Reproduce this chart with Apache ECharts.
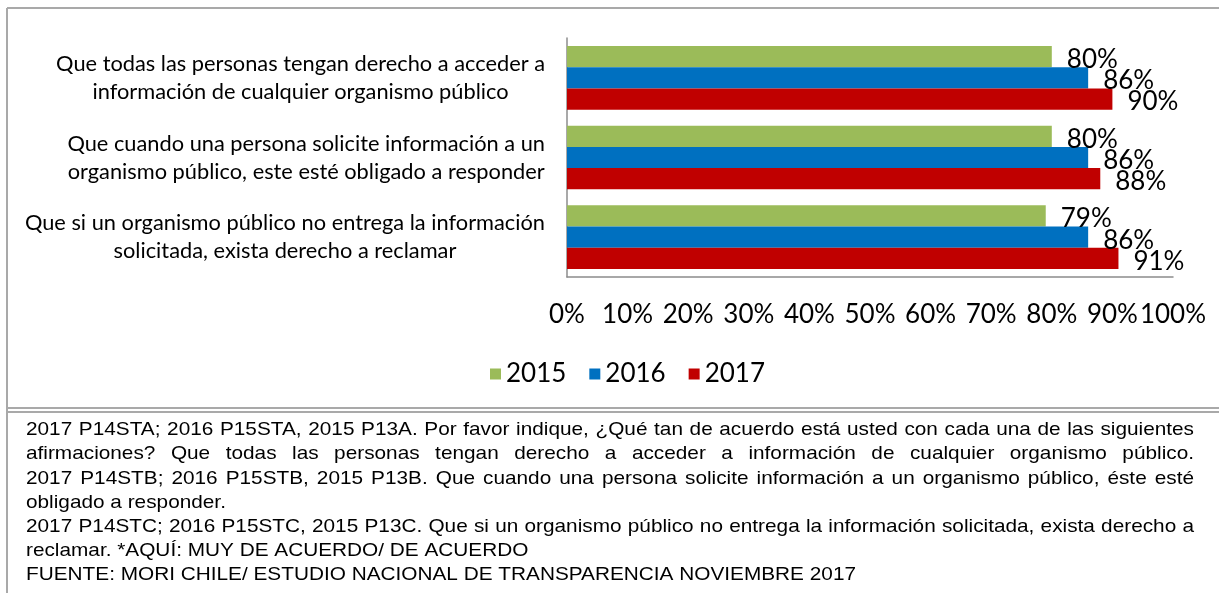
<!DOCTYPE html>
<html>
<head>
<meta charset="utf-8">
<script src="https://cdn.jsdelivr.net/npm/echarts@6/dist/echarts.min.js"></script>
<style>
  html, body { margin: 0; padding: 0; background: #fff; }
  #chart { width: 1219px; height: 593px; }
</style>
</head>
<body>
<div id="chart"></div>
<script>
// datos
const categories = [
  'Que todas las personas tengan derecho a acceder a\ninformación de cualquier organismo público',
  'Que cuando una persona solicite información a un\norganismo público, este esté obligado a responder',
  'Que si un organismo público no entrega la información\nsolicitada, exista derecho a reclamar'
]
const years = ['2015', '2016', '2017']
const values2015 = [80, 80, 79]
const values2016 = [86, 86, 86]
const values2017 = [90, 88, 91]
const xTicks = [0, 100, 10] // min, max, intervalo

const footLines = [
  '2017 P14STA; 2016 P15STA, 2015 P13A. Por favor indique, ¿Qué tan de acuerdo está usted con cada una de las siguientes',
  'afirmaciones? Que todas las personas tengan derecho a acceder a información de cualquier organismo público.',
  '2017 P14STB; 2016 P15STB, 2015 P13B. Que cuando una persona solicite información a un organismo público, éste esté',
  'obligado a responder.',
  '2017 P14STC; 2016 P15STC, 2015 P13C. Que si un organismo público no entrega la información solicitada, exista derecho a',
  'reclamar. *AQUÍ: MUY DE ACUERDO/ DE ACUERDO',
  'FUENTE: MORI CHILE/ ESTUDIO NACIONAL DE TRANSPARENCIA NOVIEMBRE 2017'
]
const footJustify = [true, true, true, false, true, false, false]

const colors = ['#9BBB59', '#0070C0', '#C00000']
const labelFont = 'Lato, "Open Sans", sans-serif'
const footFont = '"Liberation Sans", Arial, sans-serif'
const border = '#a9a9a9'

/**
 * Arma el pie de página como textos justificados, estrechados en X
 */
function buildFootnote() {
  const ctx = document.createElement('canvas').getContext('2d')
  const size = 19
  ctx.font = size + 'px ' + footFont
  const left = 26
  const right = 1194
  // escala horizontal para imitar una fuente estrecha
  const k = 830 / ctx.measureText(footLines[6]).width
  const fullW = (right - left) / k
  const children = []

  footLines.forEach((line, i) => {
    const y = 430 + i * 24.2
    if(!footJustify[i]) {
      children.push({
        type: 'text', x: 0, y: y,
        style: { text: line, font: size + 'px ' + footFont, fill: '#000', textVerticalAlign: 'middle' }
      })
      return
    }
    const words = line.split(' ')
    const widths = words.map(w => ctx.measureText(w).width)
    const total = widths.reduce((a, b) => a + b, 0)
    const gap = (fullW - total) / (words.length - 1)
    let x = 0
    words.forEach((w, j) => {
      children.push({
        type: 'text', x: x, y: y,
        style: { text: w, font: size + 'px ' + footFont, fill: '#000', textVerticalAlign: 'middle' }
      })
      x += widths[j] + gap
    })
  })

  return { type: 'group', x: left, y: 0, scaleX: k, children: children }
}

const chart = echarts.init(document.getElementById('chart'))

const barSeries = [values2015, values2016, values2017].map((data, i) => ({
  name: years[i],
  type: 'bar',
  data: data,
  barGap: '0%',
  barCategoryGap: '20%',
  itemStyle: { color: colors[i] },
  label: {
    show: true,
    position: 'right',
    distance: 15,
    offset: [0, 3],
    formatter: '{c}%',
    color: '#000',
    fontSize: 26,
    fontFamily: labelFont
  }
}))

const option = {
  animation: false,
  backgroundColor: '#fff',
  grid: { left: 567, top: 38, right: 46, bottom: 316 },
  legend: {
    data: years,
    left: 485,
    top: 356,
    icon: 'rect',
    itemWidth: 11,
    itemHeight: 11,
    itemGap: 23,
    textStyle: { fontSize: 26, fontFamily: labelFont, color: '#000' }
  },
  xAxis: {
    type: 'value',
    min: xTicks[0],
    max: xTicks[1],
    interval: xTicks[2],
    axisLine: { show: true, lineStyle: { color: '#8c8c8c', width: 1.5 } },
    axisTick: { show: false },
    splitLine: { show: false },
    axisLabel: {
      formatter: '{value}%',
      margin: 25,
      color: '#000',
      fontSize: 26,
      fontFamily: labelFont
    }
  },
  yAxis: {
    type: 'category',
    inverse: true,
    data: categories,
    axisLine: { show: true, lineStyle: { color: '#8c8c8c', width: 1.5 } },
    axisTick: { show: false },
    axisLabel: {
      margin: 22,
      color: '#000',
      // cada línea centrada dentro del bloque
      formatter: v => v.split('\n').map(s => '{c|' + s + '}').join('\n'),
      rich: {
        c: { align: 'center', fontSize: 21.8, lineHeight: 28, fontFamily: labelFont, color: '#000' }
      }
    }
  },
  graphic: [
    { type: 'line', shape: { x1: 7, y1: 8, x2: 1219, y2: 8 }, style: { stroke: border, lineWidth: 2 } },
    { type: 'line', shape: { x1: 7, y1: 8, x2: 7, y2: 593 }, style: { stroke: border, lineWidth: 2 } },
    { type: 'line', shape: { x1: 7, y1: 408, x2: 1219, y2: 408 }, style: { stroke: border, lineWidth: 2 } },
    { type: 'line', shape: { x1: 7, y1: 412, x2: 1219, y2: 412 }, style: { stroke: border, lineWidth: 2 } },
    buildFootnote()
  ],
  series: barSeries
}

chart.setOption(option)
</script>
</body>
</html>
